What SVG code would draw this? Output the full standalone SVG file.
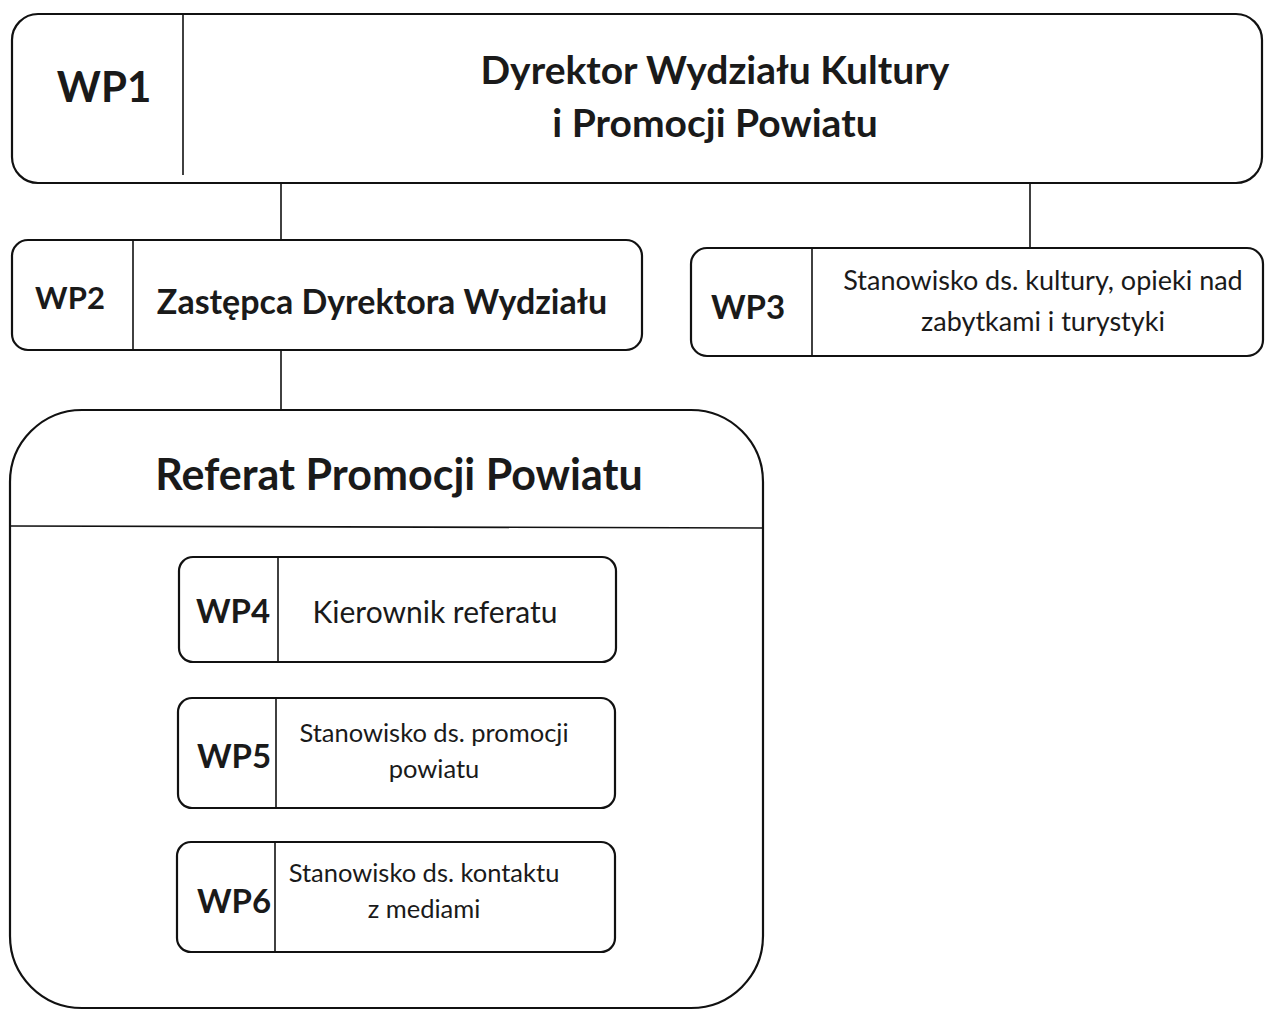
<svg xmlns="http://www.w3.org/2000/svg" width="1265" height="1011" viewBox="0 0 1265 1011">
<style>
.box{fill:#fff;stroke:#111;stroke-width:2.2}
.div{stroke:#111;stroke-width:1.6}
.con{stroke:#111;stroke-width:1.6;fill:none}
text{font-family:Lato,"Open Sans","Liberation Sans",sans-serif;fill:#1a1a1a;text-anchor:middle}
.b{font-weight:bold}
</style>
<rect width="1265" height="1011" fill="#fff"/>
<g id="connectors">
<line class="con" x1="281" y1="182" x2="281" y2="242"/>
<line class="con" x1="1030" y1="184" x2="1030" y2="250"/>
<line class="con" x1="281" y1="350" x2="281" y2="412"/>
<polyline class="con" points="179,600 130,600 130,890 177,890"/>
<line class="con" x1="130" y1="745" x2="178" y2="745"/>
</g>
<g id="WP1">
<rect class="box" x="12" y="14" width="1250" height="169" rx="26"/>
<line class="div" x1="183" y1="14" x2="183" y2="175"/>
<text class="b" x="104" y="102" font-size="42">WP1</text>
<text class="b" x="715" y="84" font-size="39">Dyrektor Wydziału Kultury</text>
<text class="b" x="715" y="137" font-size="39">i Promocji Powiatu</text>
</g>
<g id="WP2">
<rect class="box" x="12" y="240" width="630" height="110" rx="16"/>
<line class="div" x1="133" y1="240" x2="133" y2="350"/>
<text class="b" x="70" y="309" font-size="31">WP2</text>
<text class="b" x="382" y="314" font-size="34">Zastępca Dyrektora Wydziału</text>
</g>
<g id="WP3">
<rect class="box" x="691" y="248" width="572" height="108" rx="16"/>
<line class="div" x1="812" y1="248" x2="812" y2="356"/>
<text class="b" x="748" y="319" font-size="33">WP3</text>
<text x="1043" y="290" font-size="27">Stanowisko ds. kultury, opieki nad</text>
<text x="1043" y="331" font-size="27">zabytkami i turystyki</text>
</g>
<g id="Referat">
<rect class="box" x="10" y="410" width="753" height="598" rx="72"/>
<line class="div" x1="10" y1="526" x2="763" y2="528"/>
<text class="b" x="399" y="490" font-size="43">Referat Promocji Powiatu</text>
</g>
<g id="WP4">
<rect class="box" x="179" y="557" width="437" height="105" rx="14"/>
<line class="div" x1="278" y1="557" x2="278" y2="662"/>
<text class="b" x="233" y="623" font-size="33">WP4</text>
<text x="435" y="623" font-size="30">Kierownik referatu</text>
</g>
<g id="WP5">
<rect class="box" x="178" y="698" width="437" height="110" rx="14"/>
<line class="div" x1="276" y1="698" x2="276" y2="808"/>
<text class="b" x="234" y="768" font-size="33">WP5</text>
<text x="434" y="742" font-size="25.5">Stanowisko ds. promocji</text>
<text x="434" y="778" font-size="25.5">powiatu</text>
</g>
<g id="WP6">
<rect class="box" x="177" y="842" width="438" height="110" rx="14"/>
<line class="div" x1="275" y1="842" x2="275" y2="952"/>
<text class="b" x="234" y="913" font-size="33">WP6</text>
<text x="424" y="882" font-size="25.5">Stanowisko ds. kontaktu</text>
<text x="424" y="918" font-size="25.5">z mediami</text>
</g>
</svg>
